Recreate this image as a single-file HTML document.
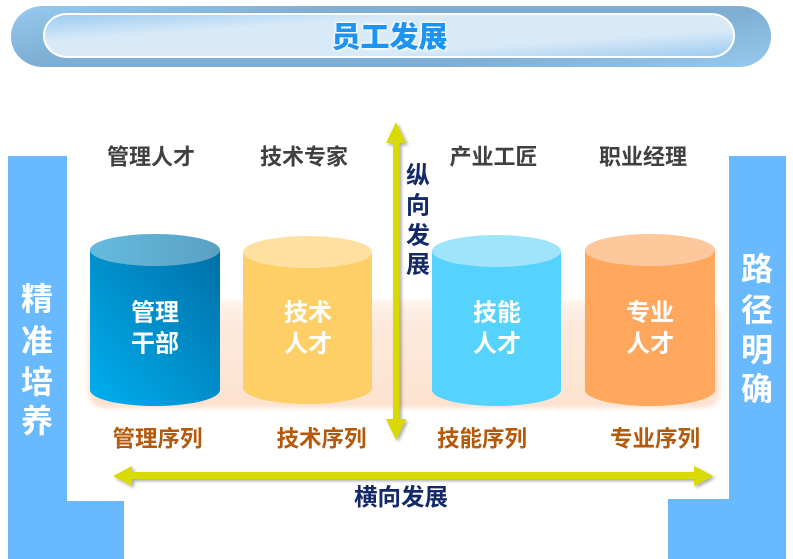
<!DOCTYPE html>
<html><head><meta charset="utf-8">
<style>
html,body{margin:0;padding:0;background:#fff;}
body{width:793px;height:559px;overflow:hidden;position:relative;font-family:"Liberation Sans","Noto Sans CJK SC",sans-serif;}
.outer{position:absolute;left:11px;top:6px;width:760px;height:61px;border-radius:32px/30px;
 background:linear-gradient(170deg,#97caf0 0%,#7eaed3 31%,#7eaed3 69%,#97caf0 100%);}
.inner{position:absolute;left:43px;top:13px;width:688px;height:41px;border:2px solid #fff;border-radius:24px/22px;
 background:linear-gradient(176deg,#9ccbf0 0%,#d8eaf8 30%,#d8eaf8 70%,#9ccbf0 100%);}
.title{position:absolute;left:-7px;width:793px;top:19px;height:38px;line-height:38px;text-align:center;font-size:29px;font-weight:900;color:#1b94f4;
 text-shadow:0 0 2px #fff,1px 1px 2px #fff,-1px -1px 2px #fff;}
svg{position:absolute;left:0;top:0;}
</style></head><body>
<div class="outer"></div>
<div class="inner"></div>
<div class="title">员工发展</div>
<svg width="793" height="559" viewBox="0 0 793 559" xmlns="http://www.w3.org/2000/svg">
<defs>
 <linearGradient id="blueSide" x1="1" y1="0" x2="0" y2="1">
  <stop offset="0" stop-color="#006fa6"/><stop offset="1" stop-color="#00aff0"/>
 </linearGradient>
 <linearGradient id="blueTop" x1="0" y1="0" x2="1" y2="0">
  <stop offset="0" stop-color="#65bbde"/><stop offset="1" stop-color="#5aa1c3"/>
 </linearGradient>
 <linearGradient id="peach" x1="0" y1="0" x2="0" y2="1">
  <stop offset="0" stop-color="#fef3eb"/><stop offset="0.25" stop-color="#fde9db"/><stop offset="1" stop-color="#fde2cf"/>
 </linearGradient>
 <filter id="sh" x="-10%" y="-10%" width="120%" height="130%">
  <feDropShadow dx="2" dy="2" stdDeviation="1.5" flood-color="#000" flood-opacity="0.35"/>
 </filter>
 <filter id="blur"><feGaussianBlur stdDeviation="2"/></filter>
</defs>
<!-- blue bracket -->
<rect x="8" y="156" width="59" height="403" fill="#68b9fd"/>
<rect x="8" y="501" width="116" height="58" fill="#68b9fd"/>
<rect x="729" y="156" width="57" height="403" fill="#68b9fd"/>
<rect x="668" y="499" width="118" height="60" fill="#68b9fd"/>
<!-- peach platform -->
<rect x="88" y="300" width="632" height="108" rx="16" ry="16" fill="url(#peach)" filter="url(#blur)"/>
<!-- cylinders -->
<g>
 <path d="M90 250 V390 A65 16 0 0 0 220 390 V250 Z" fill="url(#blueSide)"/>
 <ellipse cx="155" cy="250" rx="65" ry="16" fill="url(#blueTop)"/>
 <path d="M243 252 V388 A64.5 16 0 0 0 372 388 V252 Z" fill="#fecf66"/>
 <ellipse cx="307.5" cy="252" rx="64.5" ry="16" fill="#fee1a1"/>
 <path d="M432 251 V390 A64.5 16 0 0 0 561 390 V251 Z" fill="#55d3fe"/>
 <ellipse cx="496.5" cy="251" rx="64.5" ry="16" fill="#9fe4fb"/>
 <path d="M585 250 V390 A65 16 0 0 0 715 390 V250 Z" fill="#ffa75c"/>
 <ellipse cx="650" cy="250" rx="65" ry="16" fill="#fdc89c"/>
</g>
<!-- arrows -->
<g filter="url(#sh)" fill="#d8da00">
 <rect x="393" y="140" width="6.5" height="282"/>
 <polygon points="386,143 396,122 406,143"/>
 <polygon points="386,419 396,440 406,419"/>
 <rect x="130" y="472" width="566" height="7"/>
 <polygon points="132,466 113,476 132,486"/>
 <polygon points="694,466 713,476 694,486"/>
</g>
<!-- text -->
<g font-family="Liberation Sans, Noto Sans CJK SC, sans-serif" font-weight="bold" text-anchor="middle" dominant-baseline="central">
 <g fill="#404040" font-size="22">
  <text x="151" y="157">管理人才</text>
  <text x="304" y="157">技术专家</text>
  <text x="493.5" y="157">产业工匠</text>
  <text x="643" y="157">职业经理</text>
 </g>
 <g fill="#b5590a" font-size="22.5">
  <text x="157.5" y="439">管理序列</text>
  <text x="321.5" y="439">技术序列</text>
  <text x="482" y="439">技能序列</text>
  <text x="655" y="439">专业序列</text>
 </g>
 <g fill="#fff" font-size="24">
  <text x="155" y="313">管理</text><text x="155" y="344">干部</text>
  <text x="308" y="313">技术</text><text x="308" y="344">人才</text>
  <text x="497" y="313">技能</text><text x="497" y="344">人才</text>
  <text x="650" y="313">专业</text><text x="650" y="344">人才</text>
 </g>
 <g fill="#fff" font-size="32">
  <text x="37" y="299">精</text><text x="37" y="341">准</text><text x="37" y="382">培</text><text x="37" y="421">养</text>
  <text x="757" y="269">路</text><text x="757" y="310">径</text><text x="757" y="350">明</text><text x="757" y="389">确</text>
 </g>
 <g fill="#13296a" font-size="24">
  <text x="418" y="176">纵</text><text x="418" y="206">向</text><text x="418" y="236">发</text><text x="418" y="265">展</text>
  <text x="401" y="497" font-size="23.5">横向发展</text>
 </g>
</g>
</svg>
</body></html>
